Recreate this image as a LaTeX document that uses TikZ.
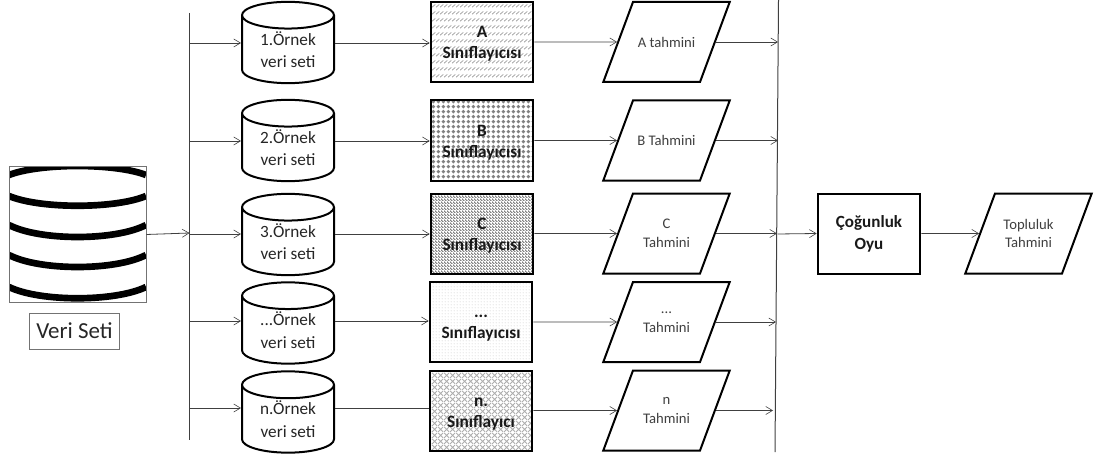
\documentclass[tikz,border=0pt]{standalone}
\usepackage{fontspec}
\setmainfont{Carlito}
\usetikzlibrary{shapes.geometric,patterns,arrows.meta}
\pgfdeclarepatternformonly{bandhatch}{\pgfqpoint{0pt}{0pt}}{\pgfqpoint{3pt}{5.25pt}}{\pgfqpoint{3pt}{5.25pt}}{
  \pgfsetlinewidth{0.5pt}
  \pgfpathmoveto{\pgfqpoint{0pt}{0.6pt}}\pgfpathlineto{\pgfqpoint{3pt}{3pt}}\pgfusepath{stroke}}
\pgfdeclarepatternformonly{dotgrid}{\pgfqpoint{0pt}{0pt}}{\pgfqpoint{4pt}{4pt}}{\pgfqpoint{4pt}{4pt}}{
  \pgfpathcircle{\pgfqpoint{2pt}{2pt}}{1.6pt}\pgfusepath{fill}}
\pgfdeclarepatternformonly{finedown}{\pgfqpoint{0pt}{0pt}}{\pgfqpoint{2.25pt}{2.25pt}}{\pgfqpoint{2.25pt}{2.25pt}}{
  \pgfsetlinewidth{0.8pt}
  \pgfpathmoveto{\pgfqpoint{-0.5pt}{2.75pt}}\pgfpathlineto{\pgfqpoint{2.75pt}{-0.5pt}}\pgfusepath{stroke}}
\pgfdeclarepatternformonly{finedot}{\pgfqpoint{0pt}{0pt}}{\pgfqpoint{2.25pt}{2.25pt}}{\pgfqpoint{2.25pt}{2.25pt}}{
  \pgfpathcircle{\pgfqpoint{1.1pt}{1.1pt}}{0.45pt}\pgfusepath{fill}}
\pgfdeclarepatternformonly{diamondgrid}{\pgfqpoint{0pt}{0pt}}{\pgfqpoint{4.5pt}{4.5pt}}{\pgfqpoint{4.5pt}{4.5pt}}{
  \pgfsetlinewidth{0.7pt}
  \pgfpathmoveto{\pgfqpoint{0pt}{0pt}}\pgfpathlineto{\pgfqpoint{4.5pt}{4.5pt}}
  \pgfpathmoveto{\pgfqpoint{0pt}{4.5pt}}\pgfpathlineto{\pgfqpoint{4.5pt}{0pt}}\pgfusepath{stroke}}
\definecolor{linegray}{gray}{0.25}
\tikzset{
  x=0.75pt,y=-0.75pt,
  conn/.style={draw=linegray,line width=0.6pt},
  arr/.style={conn,-{Straight Barb[length=5pt,width=6pt,line width=0.45pt]}},
  bus/.style={draw=linegray,line width=0.75pt},
  cyl/.style={cylinder,shape border rotate=90,aspect=0.48,anchor=shape center,draw=black,line width=1.5pt,fill=white,
    minimum width=69pt,minimum height=61pt,inner sep=0pt,align=center,font=\fontsize{12.9pt}{17pt}\selectfont,text=black!85},
  clf/.style={rectangle,draw=black,line width=1.5pt,minimum width=77pt,minimum height=60pt,inner sep=0pt,
    align=center,font=\bfseries\fontsize{13pt}{15.75pt}\selectfont,text=black!90},
  para/.style={trapezium,trapezium left angle=72,trapezium right angle=108,trapezium stretches=true,
    draw=black,line width=1.5pt,fill=white,minimum width=95.25pt,minimum height=60pt,inner sep=0pt},
  paratext/.style={align=center,inner sep=0pt,font=\fontsize{11pt}{14pt}\selectfont,text=black!75},
}
\newcommand{\boxfill}{\rule{33pt}{45pt}}
\newcommand{\lead}{\rule{0pt}{11.3pt}}
\begin{document}
\begin{tikzpicture}
\useasboundingbox (0,0) rectangle (1095,456);
% buses
\coordinate (b1t) at (189.5,13); \coordinate (b1b) at (189.5,440);
\coordinate (b2t) at (778.5,0);  \coordinate (b2b) at (775,452);
\draw[bus] (b1t) -- (b1b);
\draw[bus] (b2t) -- (b2b);
% data set picture
\node[rectangle,minimum width=102.75pt,minimum height=101.25pt,inner sep=0pt] (img) at (77.5,234.5) {};
\begin{scope}
\clip (9,167) rectangle (146,302);
\draw[line width=5pt] (9,175) .. controls (40,163) and (115,163) .. (146,175);
\draw[line width=5pt] (9,196) .. controls (40,209) and (115,209) .. (146,196);
\draw[line width=5pt] (9,225) .. controls (40,241) and (115,241) .. (146,225);
\draw[line width=5pt] (9,255) .. controls (40,271) and (115,271) .. (146,255);
\draw[line width=5pt] (9,287) .. controls (40,302) and (115,302) .. (146,287);
\end{scope}
\node[rectangle,draw=black!55,line width=0.75pt,minimum width=102.75pt,minimum height=101.25pt,inner sep=0pt] at (77.5,234.5) {};
\node[rectangle,draw=black!55,line width=0.75pt,minimum width=68pt,minimum height=27pt,inner sep=0pt,font=\fontsize{17.2pt}{19pt}\selectfont,text=black!85] (veri) at (74.5,331) {Veri Seti};
% cylinders
\node[cyl] (c1) at (288,42.5) {1.Örnek\\veri seti};
\node[cyl] (c2) at (288,140.5) {2.Örnek\\veri seti};
\node[cyl] (c3) at (288,234.5) {3.Örnek\\veri seti};
\node[cyl] (c4) at (288,323) {...Örnek\\veri seti};
\node[cyl] (c5) at (288,412) {n.Örnek\\veri seti};
% classifiers
\node[clf,pattern=bandhatch,pattern color=black!45] (a) at (482,42) {\lead A\\Sınıflayıcısı};
\node[clf,pattern=dotgrid,pattern color=black!50] (b) at (482,140.5) {\lead B\\Sınıflayıcısı};
\node[clf,pattern=finedown,pattern color=black!55] (c) at (482,233.5) {\lead C\\Sınıflayıcısı};
\node[clf,pattern=finedot,pattern color=black!30] (d) at (481,322) {\lead ...\\Sınıflayıcısı};
\node[clf,pattern=diamondgrid,pattern color=black!32] (e) at (481,410.5) {\lead n.\\Sınıflayıcı};
% predictions
\node[para] (pa) at (666.5,42) {\phantom{\boxfill}};
\node[paratext] at (pa) {A tahmini};
\node[para] (pb) at (666.5,140.5) {\phantom{\boxfill}};
\node[paratext] at (pb) {B Tahmini};
\node[para] (pc) at (666.5,233.5) {\phantom{\boxfill}};
\node[paratext] at (pc) {C\\Tahmini};
\node[para] (pd) at (666.5,322) {\phantom{\boxfill}};
\node[paratext] at (pd) {...\\Tahmini};
\node[para] (pe) at (666.5,410.5) {\phantom{\boxfill}};
\node[paratext] at (pe) {n\\Tahmini};
% vote
\node[clf,fill=white,font=\bfseries\fontsize{12.8pt}{16.5pt}\selectfont] (vote) at (869,233.5) {Çoğunluk\\Oyu};
\node[para] (top) at (1028.5,233.5) {\phantom{\boxfill}};
\node[paratext] at (top) {Topluluk\\Tahmini};
% connectors
\coordinate (s0) at (189.5,233);
\draw[arr] (img.east) -- (s0);
\foreach \i/\y in {1/43,2/141,3/234,4/321,5/408}{
  \coordinate (bus\i) at (189.5,\y);
  \draw[arr] (bus\i) -- (c\i.west|-bus\i);
}
\foreach \i/\n/\y in {1/a/43,2/b/141,3/c/234,4/d/321}{
  \coordinate (m\i) at (300,\y);
  \draw[arr] (c\i.east|-m\i) -- (\n.west|-m\i);
}
\coordinate (m5) at (300,408);
\draw[conn] (c5.east|-m5) -- (e.west|-m5);
\draw[arr] (a.east) -- (pa.west);
\draw[arr] (b.east) -- (pb.west);
\draw[arr] (c.east) -- (pc.west);
\draw[arr] (d.east) -- (pd.west);
\draw[arr] (e.east) -- (pe.west);
\foreach \n/\x in {pa/778,pb/778,pc/777,pd/776,pe/773}{
  \coordinate (r\n) at (\x,0);
  \draw[arr] (\n.east) -- (r\n|-\n.east);
}
\coordinate (v0) at (777.5,234);
\draw[arr] (v0) -- (vote.west);
\draw[arr] (vote.east) -- (top.west);
\end{tikzpicture}
\end{document}
